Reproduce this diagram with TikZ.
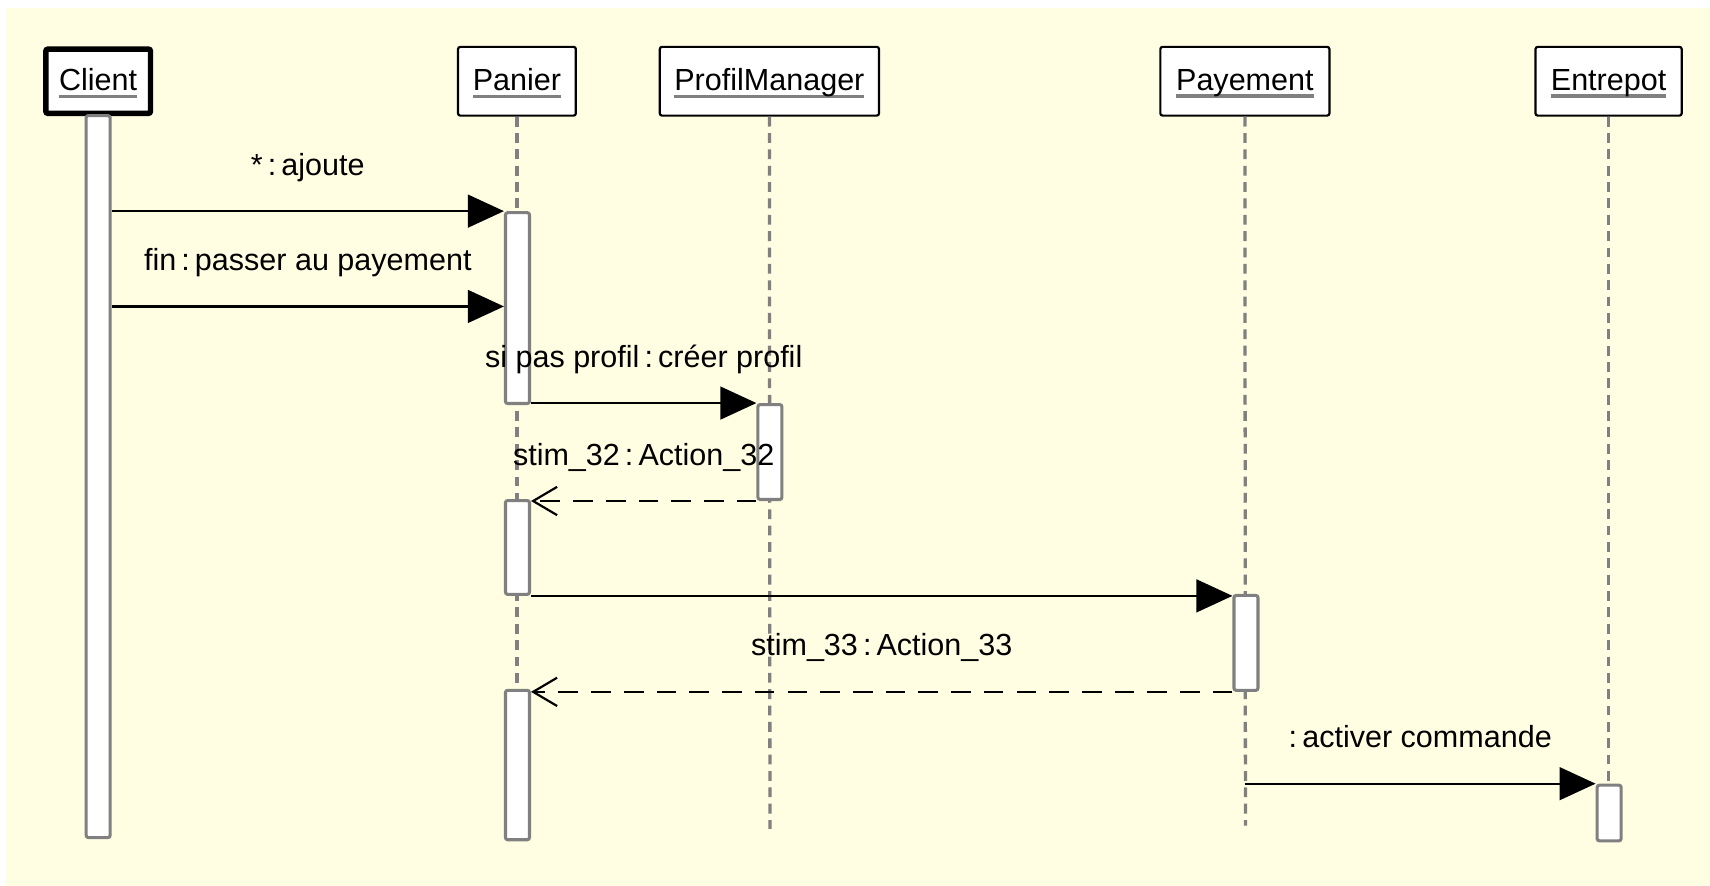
\documentclass[tikz,border=0pt]{standalone}
\usepackage{fontspec}
\setmainfont{Liberation Sans}
\usetikzlibrary{arrows.meta}
\definecolor{cream}{RGB}{255,253,226}
\newcommand{\objname}[1]{\sbox0{#1}\rlap{\color{black!50}\rule[-3.5pt]{\wd0}{1.5pt}}\usebox0}

\begin{document}
\begin{tikzpicture}[x=0.5pt,y=-0.5pt,
  font=\fontsize{14pt}{16pt}\selectfont,
  obj/.style={draw=black, line width=1pt, fill=white, rounded corners=1pt, minimum height=31.5pt, inner sep=0pt, text depth=1.5pt},
  bar/.style={draw=black!50, line width=1.4pt, fill=white, rounded corners=1pt, minimum width=11pt, inner sep=0pt},
  life/.style={draw=black!50, line width=1.5pt, dash pattern=on 4.5pt off 3pt},
  msg/.style={line width=1pt, -{Triangle[length=16.5pt,width=15pt]}},
  ret/.style={line width=1pt, dash pattern=on 9pt off 6pt, -{Straight Barb[length=11pt,width=13pt]}},
  lbl/.style={midway, anchor=base, yshift=16.5pt}]
\useasboundingbox (0,0) rectangle (1568,812);
\fill[white] (0,0) rectangle (1568,812);
\fill[cream] (5.5,7.3) rectangle (1568,812);

\node[obj, line width=2.5pt, minimum width=48pt, minimum height=29.5pt] (client) at (90,74.5) {\objname{Client}};
\node[obj, minimum width=54pt] (panier) at (474,74.5) {\objname{Panier}};
\node[obj, minimum width=100.5pt] (manager) at (705.5,74.5) {\objname{ProfilManager}};
\node[obj, minimum width=77.5pt] (payement) at (1141.5,74.5) {\objname{Payement}};
\node[obj, minimum width=67pt] (entrepot) at (1475,74.5) {\objname{Entrepot}};

\coordinate (panierEnd) at (474,760);
\coordinate (managerEnd) at (706,760);
\coordinate (payementEnd) at (1142,757);
\coordinate (entrepotEnd) at (1475,720);
\draw[life] (panier.south) -- (panierEnd);
\draw[life] (manager.south) -- (managerEnd);
\draw[life] (payement.south) -- (payementEnd);
\draw[life] (entrepot.south) -- (entrepotEnd);

\node[bar, minimum height=331pt] (clientBar) at (90,437) {};
\node[bar, minimum height=87.5pt] (panierBarA) at (474.5,282.5) {};
\node[bar, minimum height=43.5pt] (managerBar) at (706,414.5) {};
\node[bar, minimum height=43pt] (panierBarB) at (474.5,502) {};
\node[bar, minimum height=43.5pt] (payementBar) at (1142.5,589.5) {};
\node[bar, minimum height=68.5pt] (panierBarC) at (474.5,701.5) {};
\node[bar, minimum height=25.5pt] (entrepotBar) at (1475.5,745.5) {};

\draw[msg] (clientBar.east |- panierBarA.north) -- (panierBarA.north west) node[lbl] {*\,:\,ajoute};
\draw[msg] (clientBar.east |- 0,281) -- (panierBarA.west |- 0,281) node[lbl] {fin\,:\,passer au payement};
\draw[msg] (panierBarA.east |- managerBar.north) -- (managerBar.north west) node[lbl] {si pas profil\,:\,créer profil};
\draw[ret] (managerBar.south west) -- (panierBarB.east |- managerBar.south) node[lbl] {stim\_32\,:\,Action\_32};
\draw[msg] (panierBarB.south east) -- (payementBar.west |- panierBarB.south);
\draw[ret] (payementBar.south west) -- (panierBarC.east |- payementBar.south) node[lbl] {stim\_33\,:\,Action\_33};
\draw[msg] (payement.south |- entrepotBar.north) -- (entrepotBar.north west) node[lbl] {:\,activer commande};
\end{tikzpicture}
\end{document}
